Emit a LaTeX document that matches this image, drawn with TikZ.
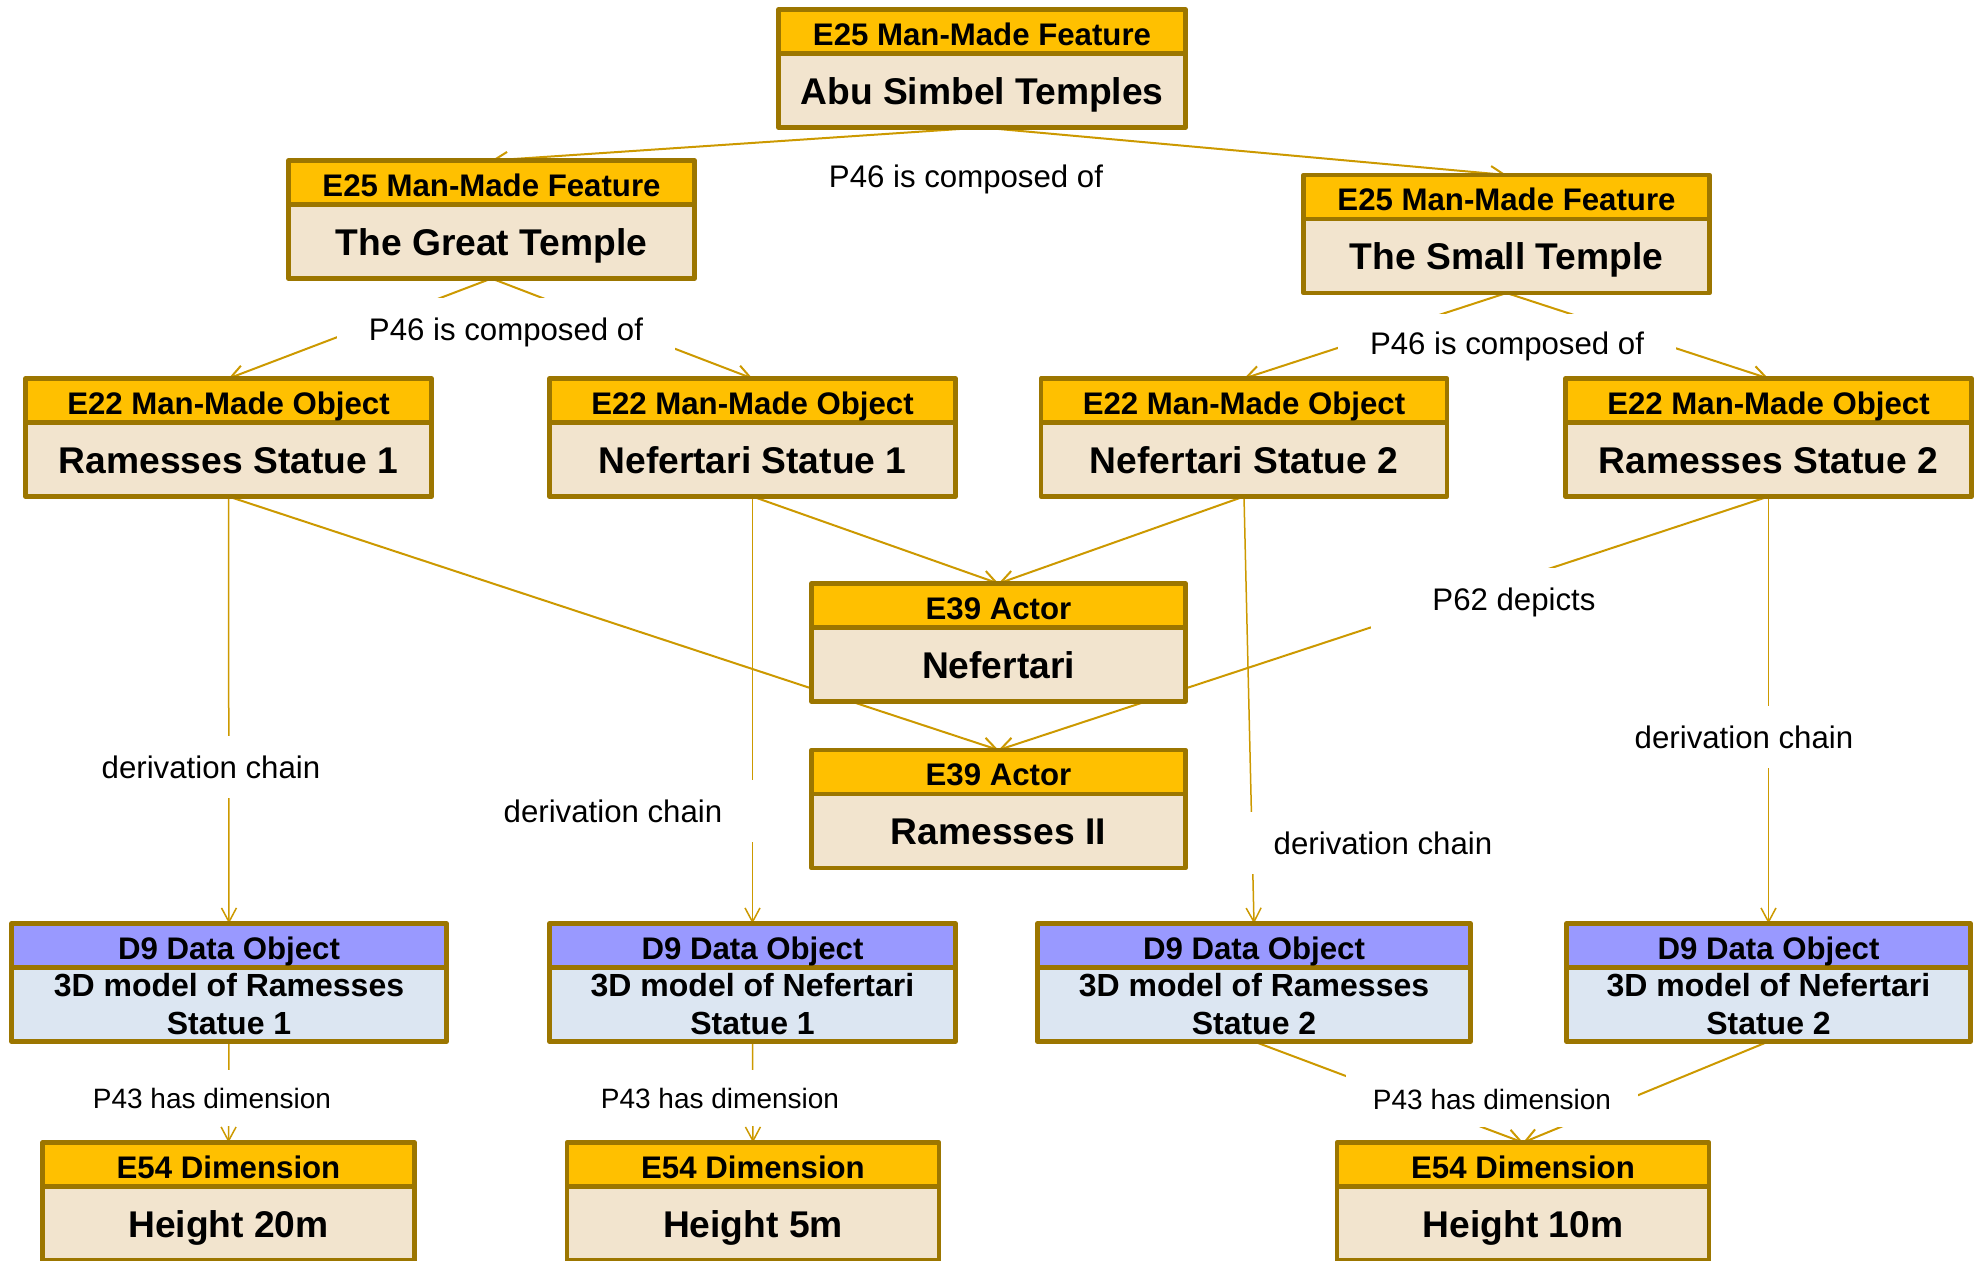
\documentclass[tikz,border=0pt]{standalone}
\usepackage{fontspec}
\setmainfont{Liberation Sans}
\usetikzlibrary{positioning,arrows.meta,backgrounds}
\definecolor{headgold}{RGB}{255,192,0}
\definecolor{boxbrown}{RGB}{156,118,0}
\definecolor{bodybeige}{RGB}{242,228,206}
\definecolor{dlilac}{RGB}{153,153,255}
\definecolor{dblue}{RGB}{220,230,242}
\definecolor{linegold}{RGB}{204,153,0}
\def\headfont{\fontsize{15.6}{18}\bfseries}
\def\bodyfont{\fontsize{18.6}{22}\bfseries}
\def\dfont{\fontsize{16}{19}\bfseries}
\tikzset{
	ent/.style={draw=boxbrown, line width=2.4pt, line join=round, inner sep=0pt, outer sep=0pt},
	head/.style={ent, fill=headgold, minimum height=22pt, font=\headfont, text height=13.6pt, text depth=0pt},
	boxbase/.style={ent, fill=bodybeige, minimum height=37pt, font=\bodyfont},
	body/.style={boxbase, text height=13.8pt, text depth=0pt},
	dhead/.style={head, fill=dlilac},
	dbody/.style={boxbase, fill=dblue, font=\dfont, align=center},
	rel/.style={draw=linegold, line width=1pt, -{Straight Barb[length=7pt,width=7.5pt]}},
	deriv/.style={rel, line width=0.75pt},
	lbl/.style={fill=white, inner sep=0pt, font=\fontsize{15.6}{18}\selectfont},
	dimlbl/.style={lbl, minimum width=146pt, minimum height=28pt, font=\fontsize{14}{17}\selectfont},
}
\begin{document}
\begin{tikzpicture}[x=0.5pt, y=-0.5pt]
			%%%%% START %%%%%
			\useasboundingbox (0, 0) rectangle (1982, 1261);
			
			%%%%% relation labels %%%%%
			\node[lbl] (lblTop) at (966, 179) {P46 is composed of};
			\node[lbl, minimum width=169pt, minimum height=34pt] (lblGreat) at (506, 332) {P46 is composed of};
			\node[lbl, minimum width=169pt, minimum height=32pt] (lblSmall) at (1507, 346) {P46 is composed of};
			\node[lbl, minimum width=143pt, minimum height=34pt] (lblDepicts) at (1514, 602) {P62 depicts};
			\node[lbl, minimum width=150pt, minimum height=31pt] (lblDer1) at (211, 767) {derivation chain};
			\node[lbl, minimum width=150pt, minimum height=31pt] (lblDer2) at (613, 811) {derivation chain};
			\node[lbl, minimum width=150pt, minimum height=31pt] (lblDer3) at (1383, 843) {derivation chain};
			\node[lbl, minimum width=150pt, minimum height=31pt] (lblDer4) at (1744, 737) {derivation chain};
			\node[dimlbl] (lblDim1) at (212, 1098) {P43 has dimension};
			\node[dimlbl] (lblDim2) at (720, 1098) {P43 has dimension};
			\node[dimlbl] (lblDim3) at (1492, 1099) {P43 has dimension};
			
			%%%%% temples %%%%%
			\node[body, minimum width=203.5pt] (abu) at (982, 90.5) {Abu Simbel Temples};
			\node[head, minimum width=203.5pt, above=0pt of abu] (abuH) {E25 Man-Made Feature};
			\node[body, minimum width=203pt] (great) at (491.5, 241.5) {The Great Temple};
			\node[head, minimum width=203pt, above=0pt of great] (greatH) {E25 Man-Made Feature};
			\node[body, minimum width=203pt] (small) at (1506.5, 256) {The Small Temple};
			\node[head, minimum width=203pt, above=0pt of small] (smallH) {E25 Man-Made Feature};
			
			%%%%% statues %%%%%
			\node[body, minimum width=203pt] (ram1) at (228.5, 459.5) {Ramesses Statue 1};
			\node[head, minimum width=203pt, above=0pt of ram1] (ram1H) {E22 Man-Made Object};
			\node[body, minimum width=203pt] (nef1) at (752.5, 459.5) {Nefertari Statue 1};
			\node[head, minimum width=203pt, above=0pt of nef1] (nef1H) {E22 Man-Made Object};
			\node[body, minimum width=203pt] (nef2) at (1244, 459.5) {Nefertari Statue 2};
			\node[head, minimum width=203pt, above=0pt of nef2] (nef2H) {E22 Man-Made Object};
			\node[body, minimum width=203pt] (ram2) at (1768.5, 459.5) {Ramesses Statue 2};
			\node[head, minimum width=203pt, above=0pt of ram2] (ram2H) {E22 Man-Made Object};
			
			%%%%% actors %%%%%
			\node[body, minimum width=187pt] (nefertari) at (998.5, 664.5) {Nefertari};
			\node[head, minimum width=187pt, above=0pt of nefertari] (nefertariH) {E39 Actor};
			\node[body, minimum width=187pt] (ramesses) at (998.5, 831) {Ramesses II};
			\node[head, minimum width=187pt, above=0pt of ramesses] (ramessesH) {E39 Actor};
			
			%%%%% data objects %%%%%
			\node[dbody, minimum width=217.5pt] (model1) at (229, 1004.5) {3D model of Ramesses\\Statue 1};
			\node[dhead, minimum width=217.5pt, above=0pt of model1] (model1H) {D9 Data Object};
			\node[dbody, minimum width=203pt] (model2) at (752.5, 1004.5) {3D model of Nefertari\\Statue 1};
			\node[dhead, minimum width=203pt, above=0pt of model2] (model2H) {D9 Data Object};
			\node[dbody, minimum width=216.5pt] (model3) at (1254, 1004.5) {3D model of Ramesses\\Statue 2};
			\node[dhead, minimum width=216.5pt, above=0pt of model3] (model3H) {D9 Data Object};
			\node[dbody, minimum width=202pt] (model4) at (1768.5, 1004.5) {3D model of Nefertari\\Statue 2};
			\node[dhead, minimum width=202pt, above=0pt of model4] (model4H) {D9 Data Object};
			
			%%%%% dimensions %%%%%
			\node[body, minimum width=186pt] (dim1) at (228.5, 1223.5) {Height 20m};
			\node[head, minimum width=186pt, above=0pt of dim1] (dim1H) {E54 Dimension};
			\node[body, minimum width=186pt] (dim2) at (753, 1223.5) {Height 5m};
			\node[head, minimum width=186pt, above=0pt of dim2] (dim2H) {E54 Dimension};
			\node[body, minimum width=186pt] (dim3) at (1523, 1223.5) {Height 10m};
			\node[head, minimum width=186pt, above=0pt of dim3] (dim3H) {E54 Dimension};
			
			%%%%% links %%%%%
			\begin{scope}[on background layer]
				\draw[rel] (abu.south) -- (greatH.north);
				\draw[rel] (abu.south) -- (smallH.north);
				\draw[rel] (great.south) -- (ram1H.north);
				\draw[rel] (great.south) -- (nef1H.north);
				\draw[rel] (small.south) -- (nef2H.north);
				\draw[rel] (small.south) -- (ram2H.north);
				
				\draw[rel] (ram1.south) -- (ramessesH.north);
				\draw[rel] (nef1.south) -- (nefertariH.north);
				\draw[rel] (nef2.south) -- (nefertariH.north);
				\draw[rel] (ram2.south) -- (ramessesH.north);
				
				\draw[deriv] (ram1.south) -- (model1H.north);
				\draw[deriv] (nef1.south) -- (model2H.north);
				\draw[deriv] (nef2.south) -- (model3H.north);
				\draw[deriv] (ram2.south) -- (model4H.north);
				
				\draw[deriv] (model1.south) -- (dim1H.north);
				\draw[deriv] (model2.south) -- (dim2H.north);
				\draw[rel] (model3.south) -- (dim3H.north);
				\draw[rel] (model4.south) -- (dim3H.north);
			\end{scope}
			%%%%% END %%%%%
\end{tikzpicture}
\end{document}
